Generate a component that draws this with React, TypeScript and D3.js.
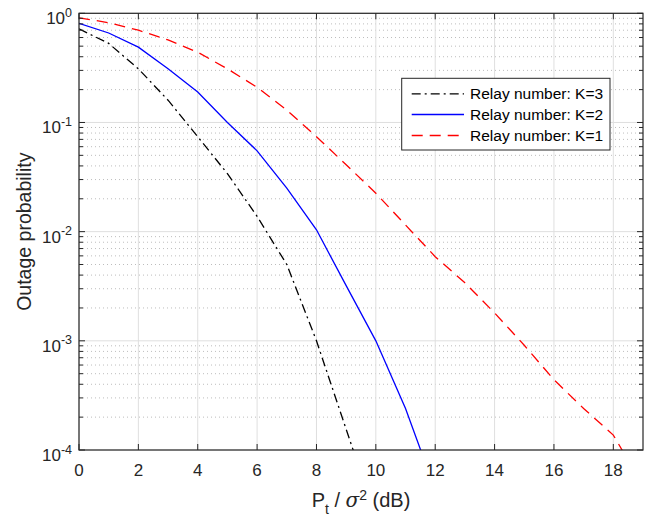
import React from "react";
import * as d3 from "d3";

const snrK1 = [0, 1, 2, 3, 4, 5, 6, 7, 8, 9, 10, 11, 12, 13, 14, 15, 16, 17, 18, 19];
const outageK1 = [0.91, 0.82, 0.70, 0.57, 0.44, 0.31, 0.21, 0.13, 0.074, 0.041, 0.0225, 0.0115, 0.0059, 0.0034, 0.0018, 0.00091, 0.00044, 0.00024, 0.000137, 0.000047];

const snrK2 = [0, 1, 2, 3, 4, 5, 6, 7, 8, 9, 10, 11, 12];
const outageK2 = [0.81, 0.66, 0.49, 0.31, 0.19, 0.10, 0.055, 0.025, 0.0104, 0.0032, 0.001, 0.00024, 0.000043];

const snrK3 = [0, 1, 2, 3, 4, 5, 6, 7, 8, 9, 10];
const outageK3 = [0.72, 0.53, 0.31, 0.16, 0.074, 0.034, 0.0138, 0.005, 0.001, 0.000155, 0.000024];

const xTicks = [0, 2, 4, 6, 8, 10, 12, 14, 16, 18];
const yExponents = [0, -1, -2, -3, -4];
const legendLabels = ["Relay number: K=3", "Relay number: K=2", "Relay number: K=1"];

const W = 653, H = 516;
const L = 79, R = 643, T = 13.3, B = 450;
const FONT = "'Liberation Sans', Arial, Helvetica, sans-serif";
const AX = "#262626";

export default function App() {
  const x = d3.scaleLinear().domain([0, 19]).range([L, R]);
  const y = d3.scaleLog().domain([1e-4, 1]).range([B, T]);

  const series = [
    { xs: snrK3, ys: outageK3, color: "#000000", dash: "9,4,2,4" },
    { xs: snrK2, ys: outageK2, color: "#0000ff", dash: "" },
    { xs: snrK1, ys: outageK1, color: "#ff0000", dash: "11,7" },
  ];

  const line = d3
    .line<[number, number]>()
    .x((d) => x(d[0]))
    .y((d) => y(d[1]));

  const minorVals: number[] = [];
  for (let e = -4; e < 0; e++) {
    for (let m = 2; m <= 9; m++) minorVals.push(m * Math.pow(10, e));
  }

  const legX = 401.7, legY = 78.3, legW = 208.3, legH = 71.7;
  const rowY = [93.8, 114.5, 135.5];

  return (
    <svg
      width={W}
      height={H}
      style={{ position: "absolute", left: 0, top: 0, background: "#fff" }}
      fontFamily={FONT}
    >
      <rect x={0} y={0} width={W} height={H} fill="#fff" />
      <defs>
        <clipPath id="plotClip">
          <rect x={L} y={T} width={R - L} height={B - T} />
        </clipPath>
      </defs>
      {minorVals.map((v, i) => (
        <line
          key={"mg" + i}
          x1={L}
          x2={R}
          y1={y(v)}
          y2={y(v)}
          stroke="#bdbdbd"
          strokeWidth={1}
          strokeDasharray="1,3"
        />
      ))}
      {xTicks.map((t) => (
        <line key={"gx" + t} x1={x(t)} x2={x(t)} y1={T} y2={B} stroke="#dfdfdf" strokeWidth={1} />
      ))}
      {yExponents.map((e) => (
        <line
          key={"gy" + e}
          x1={L}
          x2={R}
          y1={y(Math.pow(10, e))}
          y2={y(Math.pow(10, e))}
          stroke="#dfdfdf"
          strokeWidth={1}
        />
      ))}
      <g clipPath="url(#plotClip)">
        {series.map((s, i) => (
          <path
            key={"s" + i}
            d={line(s.xs.map((v, j) => [v, s.ys[j]] as [number, number])) || ""}
            fill="none"
            stroke={s.color}
            strokeWidth={1.3}
            strokeDasharray={s.dash || undefined}
          />
        ))}
      </g>
      <rect x={L} y={T} width={R - L} height={B - T} fill="none" stroke={AX} strokeWidth={1.2} />
      {xTicks.map((t) => (
        <g key={"xt" + t}>
          <line x1={x(t)} x2={x(t)} y1={B} y2={B - 6} stroke={AX} />
          <line x1={x(t)} x2={x(t)} y1={T} y2={T + 6} stroke={AX} />
          <text x={x(t)} y={476} textAnchor="middle" fontSize={17} fill={AX}>
            {t}
          </text>
        </g>
      ))}
      {yExponents.map((e) => {
        const yy = y(Math.pow(10, e));
        return (
          <g key={"yt" + e}>
            <line x1={L} x2={L + 6} y1={yy} y2={yy} stroke={AX} />
            <line x1={R} x2={R - 6} y1={yy} y2={yy} stroke={AX} />
            <text x={72} y={yy + 11} textAnchor="end" fontSize={17} fill={AX}>
              10
              <tspan dy={-7.5} fontSize={12.5}>
                {e === 0 ? "0" : "-" + Math.abs(e)}
              </tspan>
            </text>
          </g>
        );
      })}
      {minorVals.map((v, i) => (
        <g key={"mt" + i}>
          <line x1={L} x2={L + 4} y1={y(v)} y2={y(v)} stroke={AX} />
          <line x1={R} x2={R - 4} y1={y(v)} y2={y(v)} stroke={AX} />
        </g>
      ))}
      <text
        transform={`translate(31,231.7) rotate(-90)`}
        textAnchor="middle"
        fontSize={19.5}
        fill={AX}
      >
        Outage probability
      </text>
      <text x={(L + R) / 2} y={506.7} textAnchor="middle" fontSize={20} fill={AX}>
        P
        <tspan dy={7} fontSize={14}>t</tspan>
        <tspan dy={-7}>{" / "}</tspan>
        <tspan fontStyle="italic" fontFamily="'DejaVu Serif', 'Liberation Serif', serif">σ</tspan>
        <tspan dy={-7} fontSize={14}>2</tspan>
        <tspan dy={7}>{" (dB)"}</tspan>
      </text>
      <rect x={legX} y={legY} width={legW} height={legH} fill="#fff" stroke={AX} strokeWidth={1} />
      {series.map((s, i) => (
        <g key={"lg" + i}>
          <line
            x1={411.7}
            x2={464}
            y1={rowY[i]}
            y2={rowY[i]}
            stroke={s.color}
            strokeWidth={1.3}
            strokeDasharray={s.dash || undefined}
          />
          <text x={470} y={rowY[i] + 5.5} fontSize={15.5} fill="#000">
            {legendLabels[i]}
          </text>
        </g>
      ))}
    </svg>
  );
}
